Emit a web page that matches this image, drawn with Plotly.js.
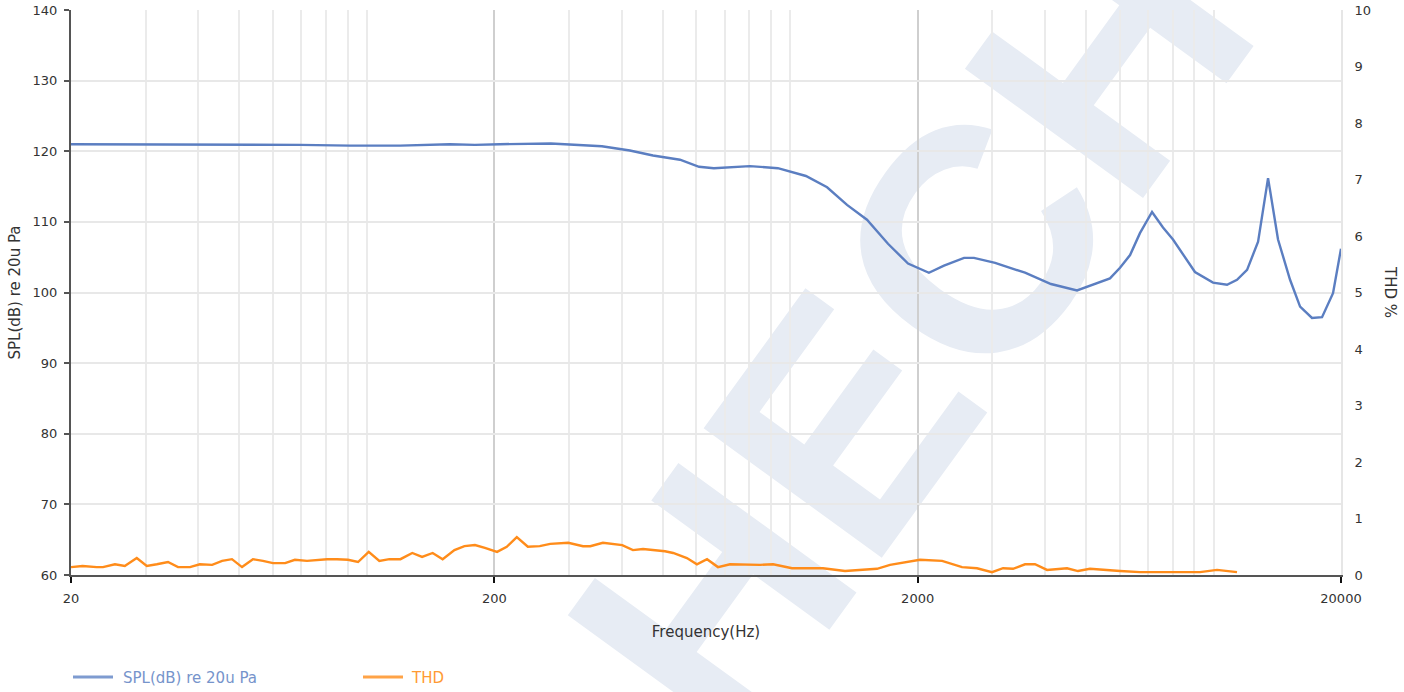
<!DOCTYPE html>
<html>
<head>
<meta charset="utf-8">
<script src="https://cdn.plot.ly/plotly-3.0.1.min.js"></script>
<style>
  html, body { margin: 0; padding: 0; background: #ffffff; }
  #wrap { position: relative; width: 1404px; height: 692px; overflow: hidden; }
  #wm { position: absolute; left: 910px; top: 330px; width: 0; height: 0; z-index: 0; }
  #wm span { position: absolute; left: 0; top: 0; transform: translate(-50%, -50%) rotate(-54deg);
    font-family: "Liberation Sans", Arial, sans-serif; font-weight: bold; font-size: 320px;
    line-height: 1; color: #e7ecf4; white-space: nowrap; }
  #chart { position: absolute; left: 0; top: 0; width: 1404px; height: 692px; z-index: 1; }
</style>
</head>
<body>
<div id="wrap">
  <div id="wm"><span>HECH</span></div>
  <div id="chart"></div>
</div>
<script>
// SPL frequency response (Hz, dB re 20uPa)
const splFreq = [20, 23.4, 30.7, 40.3, 52.9, 69.5, 91.2, 119.8, 157, 180, 206, 272, 359, 418, 474, 549, 609, 660, 803, 935, 1089, 1222, 1362, 1518, 1702, 1898, 2126, 2308, 2574, 2716, 3048, 3586, 4130, 4758, 5692, 6012, 6350, 6700, 7156, 7596, 8020, 9038, 9970, 10760, 11360, 12000, 12740, 13450, 14200, 15160, 16010, 17080, 18040, 19150, 20000];
const splDb = [121.0, 121.0, 121.0, 121.0, 121.0, 120.9, 120.8, 120.8, 121.0, 120.9, 121.0, 121.1, 120.7, 120.1, 119.4, 118.8, 117.8, 117.6, 117.9, 117.6, 116.5, 114.9, 112.4, 110.3, 106.9, 104.1, 102.8, 103.8, 104.9, 104.9, 104.2, 102.8, 101.2, 100.3, 102.0, 103.5, 105.3, 108.4, 111.4, 109.2, 107.5, 102.9, 101.4, 101.1, 101.8, 103.2, 107.2, 116.2, 107.5, 101.8, 98.0, 96.4, 96.5, 99.9, 106.2];

// THD (Hz, %)
const thdFreq = [20, 21.3, 23.0, 23.8, 25.4, 26.8, 28.6, 30.2, 31.9, 33.9, 35.8, 38.2, 40.3, 43.1, 45.5, 48.0, 50.7, 53.8, 56.8, 60.0, 64.1, 67.6, 72.2, 76.2, 80.5, 85.0, 90.2, 95.3, 101, 107, 113, 120, 128, 135, 143, 151, 161, 170, 180, 190, 203, 214, 226, 240, 256, 271, 299, 324, 337, 361, 401, 425, 449, 506, 529, 570, 602, 636, 675, 721, 774, 849, 911, 1010, 1096, 1195, 1347, 1462, 1603, 1721, 1817, 2025, 2284, 2546, 2762, 2996, 3182, 3360, 3586, 3786, 4043, 4507, 4784, 5106, 6012, 6702, 8022, 9290, 10190, 11360];
const thdPct = [0.14, 0.16, 0.14, 0.14, 0.19, 0.16, 0.30, 0.16, 0.19, 0.23, 0.14, 0.14, 0.19, 0.18, 0.25, 0.28, 0.14, 0.28, 0.25, 0.21, 0.21, 0.27, 0.25, 0.27, 0.28, 0.28, 0.27, 0.23, 0.41, 0.25, 0.28, 0.28, 0.39, 0.32, 0.39, 0.28, 0.44, 0.51, 0.53, 0.48, 0.41, 0.50, 0.67, 0.50, 0.51, 0.55, 0.57, 0.51, 0.51, 0.57, 0.53, 0.44, 0.46, 0.42, 0.39, 0.30, 0.19, 0.28, 0.14, 0.19, 0.18, 0.18, 0.19, 0.12, 0.12, 0.12, 0.07, 0.09, 0.11, 0.18, 0.21, 0.27, 0.25, 0.14, 0.12, 0.05, 0.12, 0.11, 0.19, 0.19, 0.09, 0.12, 0.07, 0.11, 0.07, 0.05, 0.05, 0.05, 0.09, 0.05];

// axis ticks
const xMajorTicks = [20, 200, 2000, 20000];
const xMajorText = ["20", "200", "2000", "20000"];
const xMinorTicks = [30, 40, 50, 60, 70, 80, 90, 100, 300, 400, 500, 600, 700, 800, 900, 1000, 3000, 4000, 5000, 6000, 7000, 8000, 9000, 10000];
const seriesNames = ["SPL(dB) re 20u Pa", "THD"];
const axisTitles = { x: "Frequency(Hz)", y: "SPL(dB) re 20u Pa", y2: "THD %" };

const FONT = "DejaVu Sans, Verdana, sans-serif";
const BLUE = "#5b7ec1";
const ORANGE = "#ff8c1a";

const traces = [
  { x: splFreq, y: splDb, name: seriesNames[0], type: "scatter", mode: "lines",
    line: { color: BLUE, width: 2.4 }, yaxis: "y", showlegend: false, hoverinfo: "x+y" },
  { x: thdFreq, y: thdPct, name: seriesNames[1], type: "scatter", mode: "lines",
    line: { color: ORANGE, width: 2.4 }, yaxis: "y2", showlegend: false, hoverinfo: "x+y" }
];

const L = 71, R = 1341, T = 10, B = 575;
const px = v => (v - L) / (R - L);
const py = v => (B - v) / (B - T);

const layout = {
  width: 1404, height: 692,
  margin: { l: L, r: 1404 - R, t: T, b: 692 - B, pad: 0 },
  paper_bgcolor: "rgba(0,0,0,0)",
  plot_bgcolor: "rgba(0,0,0,0)",
  font: { family: FONT, size: 13, color: "#333333" },
  showlegend: false,
  xaxis: {
    type: "log",
    range: [Math.log10(20), Math.log10(20000)],
    tickmode: "array", tickvals: xMajorTicks, ticktext: xMajorText,
    showgrid: true, gridcolor: "#cfcfcf", gridwidth: 2,
    minor: { tickmode: "array", tickvals: xMinorTicks, showgrid: true, gridcolor: "#ebebeb", gridwidth: 2, ticks: "" },
    showline: true, linecolor: "#555555", linewidth: 2,
    ticks: "outside", ticklen: 6, tickwidth: 2, tickcolor: "#111111",
    tickfont: { family: FONT, size: 13, color: "#333333" },
    ticklabelstandoff: 4,
    zeroline: false,
    title: { text: axisTitles.x, font: { family: FONT, size: 15, color: "#333333" }, standoff: 22 },
    automargin: false
  },
  yaxis: {
    range: [60, 140], tickmode: "linear", tick0: 60, dtick: 10,
    showgrid: true, gridcolor: "#e8e8e8", gridwidth: 2,
    showline: true, linecolor: "#555555", linewidth: 2,
    ticks: "outside", ticklen: 5, tickwidth: 2, tickcolor: "#555555",
    tickfont: { family: FONT, size: 13, color: "#333333" },
    ticklabelstandoff: 4,
    zeroline: false,
    title: { text: axisTitles.y, font: { family: FONT, size: 15, color: "#333333" }, standoff: 8 },
    automargin: false
  },
  yaxis2: {
    overlaying: "y", side: "right",
    range: [0, 10], tickmode: "linear", tick0: 0, dtick: 1,
    showgrid: false, zeroline: false,
    showline: true, linecolor: "#e6e6e6", linewidth: 2,
    ticks: "outside", ticklen: 5, tickcolor: "rgba(0,0,0,0)",
    tickfont: { family: FONT, size: 13, color: "#333333" },
    ticklabelstandoff: 4,
    automargin: false
  },
  shapes: [
    { type: "line", xref: "paper", yref: "paper", x0: px(73), x1: px(113), y0: py(677), y1: py(677),
      line: { color: "#7e9bd0", width: 3 } },
    { type: "line", xref: "paper", yref: "paper", x0: px(363), x1: px(403), y0: py(677), y1: py(677),
      line: { color: "#ffa347", width: 3 } }
  ],
  annotations: [
    { xref: "paper", yref: "paper", x: px(121), y: py(678), xanchor: "left", yanchor: "middle",
      text: seriesNames[0], showarrow: false, font: { family: FONT, size: 15, color: "#7694cb" } },
    { xref: "paper", yref: "paper", x: px(409), y: py(678), xanchor: "left", yanchor: "middle",
      text: seriesNames[1], showarrow: false, font: { family: FONT, size: 15, color: "#ff9a33" } },
    { xref: "paper", yref: "paper", x: px(1390), y: py(292), xanchor: "center", yanchor: "middle",
      text: axisTitles.y2, textangle: 90, showarrow: false, font: { family: FONT, size: 15, color: "#333333" } }
  ]
};

Plotly.newPlot("chart", traces, layout, { displayModeBar: false, staticPlot: true });
</script>
</body>
</html>
